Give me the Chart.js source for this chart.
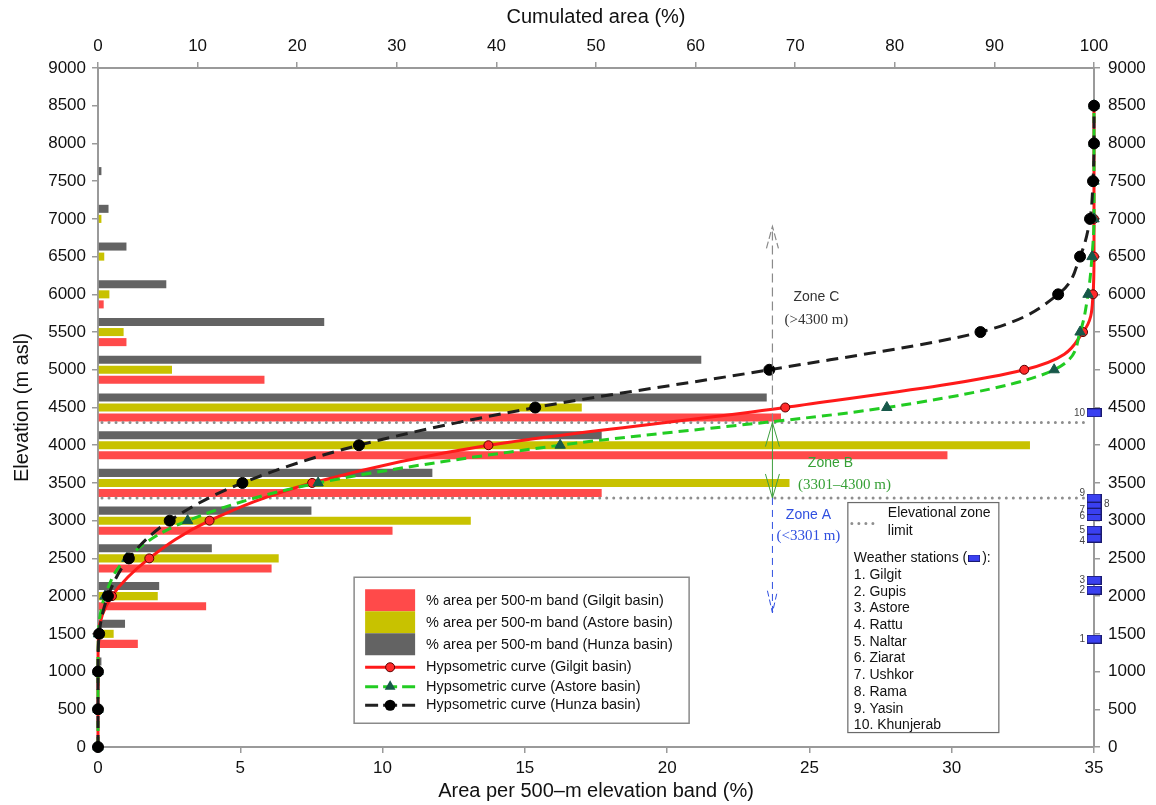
<!DOCTYPE html>
<html>
<head>
<meta charset="utf-8">
<script src="https://cdn.jsdelivr.net/npm/chart.js@4"></script>
<style>
html, body { margin: 0; padding: 0; background: #fff; }
#wrap { width: 1156px; height: 805px; position: relative; }
</style>
</head>
<body>
<div id="wrap"><canvas id="chart"></canvas></div>
<script>
// 500-m bands (bars), % of basin area
const bandElev = [1000, 1500, 2000, 2500, 3000, 3500, 4000, 4500, 5000, 5500, 6000, 6500, 7000, 7500];
const gilgitArea = [0.05, 1.4, 3.8, 6.1, 10.35, 17.7, 29.85, 24.0, 5.85, 1.0, 0.2, 0, 0, 0];
const astoreArea = [0.05, 0.55, 2.1, 6.35, 13.1, 24.3, 32.75, 17.0, 2.6, 0.9, 0.4, 0.22, 0.12, 0];
const hunzaArea = [0.12, 0.95, 2.15, 4.0, 7.5, 11.75, 17.7, 23.5, 21.2, 7.95, 2.4, 1.0, 0.37, 0.12];

// hypsometric curves, cumulated area (%)
const curveElev = [0, 500, 1000, 1500, 2000, 2500, 3000, 3500, 4000, 4500, 5000, 5500, 6000, 6500, 7000, 7500, 8000, 8500];
const gilgitCum = [0, 0, 0, 0.05, 1.4, 5.15, 11.2, 21.5, 39.2, 69.0, 93.0, 98.9, 99.9, 100, 100, 100, 100, 100];
const astoreCum = [0, 0, 0, 0.05, 0.7, 2.9, 9.0, 22.1, 46.4, 79.2, 96.0, 98.6, 99.4, 99.8, 100, 100, 100, 100];
const hunzaCum = [0, 0, 0, 0.12, 1.0, 3.1, 7.2, 14.5, 26.2, 43.9, 67.4, 88.6, 96.4, 98.6, 99.6, 99.9, 100, 100];

// weather stations
const stationNames = ['Gilgit', 'Gupis', 'Astore', 'Rattu', 'Naltar', 'Ziarat', 'Ushkor', 'Rama', 'Yasin', 'Khunjerab'];
const stationElev = [1430, 2080, 2210, 2770, 2875, 3055, 3135, 3220, 3300, 4430];

const zoneLimits = [3301, 4300];
const zoneX = 23.7;

const SANS = '"Liberation Sans", Arial, sans-serif';
const SERIF = '"Liberation Serif", "Times New Roman", serif';
const RED_BAR = 'rgb(255,74,74)';
const YEL_BAR = 'rgb(200,194,0)';
const GREY_BAR = 'rgb(99,99,99)';
const STATION_BLUE = '#3a40f0';

const pts = (ys, xs) => ys.map((y, i) => ({ x: xs[i], y: y }));

// station marker image
const stationIcon = document.createElement('canvas');
stationIcon.width = 15; stationIcon.height = 9;
(function () {
    const c = stationIcon.getContext('2d');
    c.fillStyle = STATION_BLUE;
    c.fillRect(0.5, 0.5, 14, 8);
    c.strokeStyle = '#1a1a70';
    c.lineWidth = 1;
    c.strokeRect(0.5, 0.5, 14, 8);
})();

function drawTri(ctx, x, y, r, color) {
    ctx.beginPath();
    ctx.moveTo(x, y - r);
    ctx.lineTo(x + r * 0.9, y + r * 0.6);
    ctx.lineTo(x - r * 0.9, y + r * 0.6);
    ctx.closePath();
    ctx.fillStyle = color;
    ctx.fill();
}

function drawDot(ctx, x, y, r, fill, stroke) {
    ctx.beginPath();
    ctx.arc(x, y, r, 0, Math.PI * 2);
    ctx.fillStyle = fill;
    ctx.fill();
    if (stroke) { ctx.strokeStyle = stroke; ctx.lineWidth = 1; ctx.stroke(); }
}

function arrowHead(ctx, x, tip, dir, w, h) {
    ctx.beginPath();
    ctx.moveTo(x - w, tip + dir * h);
    ctx.lineTo(x, tip);
    ctx.lineTo(x + w, tip + dir * h);
    ctx.stroke();
}

// dashed legend sample: dash, marker, dash
function dashSample(ctx, x0, y, color) {
    ctx.strokeStyle = color;
    ctx.lineWidth = 3;
    [[x0, x0 + 13], [x0 + 18, x0 + 32], [x0 + 37, x0 + 50]].forEach(s => {
        ctx.beginPath(); ctx.moveTo(s[0], y); ctx.lineTo(s[1], y); ctx.stroke();
    });
}

const overlay = {
    id: 'overlay',
    afterDatasetDraw(chart, args) {
        // zone limits sit over the bars but under the curves
        if (args.index !== 0) return;
        const { ctx, chartArea, scales } = chart;
        ctx.save();
        ctx.strokeStyle = '#8e8e8e';
        ctx.lineWidth = 3;
        ctx.lineCap = 'round';
        ctx.setLineDash([0.01, 7]);
        zoneLimits.forEach(v => {
            const py = scales.y.getPixelForValue(v);
            ctx.beginPath();
            ctx.moveTo(chartArea.left + 4, py);
            ctx.lineTo(chartArea.right - 4, py);
            ctx.stroke();
        });
        ctx.restore();
    },
    afterDatasetsDraw(chart) {
        const { ctx, scales } = chart;
        const x = scales.x, y = scales.y;
        const ax = x.getPixelForValue(zoneX);
        const yHi = y.getPixelForValue(zoneLimits[1]);
        const yLo = y.getPixelForValue(zoneLimits[0]);
        ctx.save();

        // Zone C
        const cTip = y.getPixelForValue(6900);
        ctx.strokeStyle = '#8a8a8a';
        ctx.lineWidth = 1.2;
        ctx.setLineDash([9, 5]);
        ctx.beginPath(); ctx.moveTo(ax, yHi); ctx.lineTo(ax, cTip); ctx.stroke();
        ctx.setLineDash([7, 3]);
        arrowHead(ctx, ax, cTip, 1, 6, 22);

        // Zone B
        ctx.setLineDash([]);
        ctx.strokeStyle = '#3f9f3f';
        ctx.lineWidth = 1;
        ctx.beginPath(); ctx.moveTo(ax, yHi); ctx.lineTo(ax, yLo); ctx.stroke();
        arrowHead(ctx, ax, yHi, 1, 7, 24);
        arrowHead(ctx, ax, yLo, -1, 7, 24);

        // Zone A
        const aTip = y.getPixelForValue(1780);
        ctx.strokeStyle = '#2f4fe0';
        ctx.setLineDash([7, 5]);
        ctx.beginPath(); ctx.moveTo(ax, yLo); ctx.lineTo(ax, aTip); ctx.stroke();
        ctx.setLineDash([6, 3]);
        arrowHead(ctx, ax, aTip, -1, 5, 22);
        ctx.setLineDash([]);

        ctx.textBaseline = 'middle';
        ctx.textAlign = 'center';
        ctx.fillStyle = '#333';
        ctx.font = '14px ' + SANS;
        ctx.fillText('Zone C', ax + 44, y.getPixelForValue(5960));
        ctx.font = '15px ' + SERIF;
        ctx.fillText('(>4300 m)', ax + 44, y.getPixelForValue(5660));
        ctx.fillStyle = '#36a036';
        ctx.font = '14px ' + SANS;
        ctx.fillText('Zone B', ax + 58, y.getPixelForValue(3760));
        ctx.font = '15px ' + SERIF;
        ctx.fillText('(3301\u20134300 m)', ax + 72, y.getPixelForValue(3470));
        ctx.fillStyle = '#2f4fe0';
        ctx.font = '14px ' + SANS;
        ctx.fillText('Zone A', ax + 36, y.getPixelForValue(3070));
        ctx.font = '15px ' + SERIF;
        ctx.fillText('(<3301 m)', ax + 36, y.getPixelForValue(2790));

        // main legend
        const lx = x.getPixelForValue(9.0), ly = y.getPixelForValue(2250);
        ctx.fillStyle = '#fff';
        ctx.fillRect(lx, ly, 335, 146);
        ctx.strokeStyle = '#8a8a8a';
        ctx.lineWidth = 1.5;
        ctx.strokeRect(lx, ly, 335, 146);
        const sw = lx + 11, tx = lx + 72;
        ctx.fillStyle = RED_BAR; ctx.fillRect(sw, ly + 12, 50, 22);
        ctx.fillStyle = YEL_BAR; ctx.fillRect(sw, ly + 34, 50, 22);
        ctx.fillStyle = GREY_BAR; ctx.fillRect(sw, ly + 56, 50, 22);
        ctx.textAlign = 'left';
        ctx.fillStyle = '#111';
        ctx.font = '14.5px ' + SANS;
        const legTexts = [
            '% area per 500-m band (Gilgit basin)',
            '% area per 500-m band (Astore basin)',
            '% area per 500-m band (Hunza basin)',
            'Hypsometric curve (Gilgit basin)',
            'Hypsometric curve (Astore basin)',
            'Hypsometric curve (Hunza basin)'
        ];
        const rows = [24, 46, 68, 90, 109.5, 128];
        legTexts.forEach((t, i) => ctx.fillText(t, tx, ly + rows[i]));
        // curve samples
        ctx.lineWidth = 3;
        ctx.strokeStyle = '#ff1a1a';
        ctx.beginPath(); ctx.moveTo(sw, ly + 90); ctx.lineTo(sw + 50, ly + 90); ctx.stroke();
        drawDot(ctx, sw + 25, ly + 90, 4.5, '#ff2a2a', '#5a0000');
        dashSample(ctx, sw, ly + 109.5, '#22cc22');
        drawTri(ctx, sw + 25, ly + 109, 6, '#17584a');
        dashSample(ctx, sw, ly + 128, '#222');
        drawDot(ctx, sw + 25, ly + 128, 5.5, '#000');

        // zone / stations legend
        const bx = x.getPixelForValue(26.35), by = y.getPixelForValue(3240);
        ctx.fillStyle = '#fff';
        ctx.fillRect(bx, by, 151, 230);
        ctx.strokeStyle = '#6a6a6a';
        ctx.lineWidth = 1.2;
        ctx.strokeRect(bx, by, 151, 230);
        ctx.strokeStyle = '#8e8e8e';
        ctx.lineWidth = 3;
        ctx.lineCap = 'round';
        ctx.setLineDash([0.01, 7]);
        ctx.beginPath(); ctx.moveTo(bx + 4, by + 21); ctx.lineTo(bx + 30, by + 21); ctx.stroke();
        ctx.setLineDash([]);
        ctx.lineCap = 'butt';
        ctx.fillStyle = '#111';
        ctx.font = '14px ' + SANS;
        ctx.fillText('Elevational zone', bx + 40, by + 11);
        ctx.fillText('limit', bx + 40, by + 29);
        const ws = 'Weather stations (';
        ctx.fillText(ws, bx + 6, by + 56);
        const wsw = ctx.measureText(ws).width;
        ctx.drawImage(stationIcon, bx + 6 + wsw + 1, by + 52, 12, 7);
        ctx.fillText('):', bx + 6 + wsw + 15, by + 56);
        stationNames.forEach((n, i) => {
            ctx.fillText((i + 1) + '. ' + n, bx + 6, by + 72.5 + i * 16.7);
        });

        // station numbers beside the markers
        const sx = x.getPixelForValue(35);
        ctx.font = '10px ' + SANS;
        ctx.fillStyle = '#444';
        stationElev.forEach((e, i) => {
            let py = y.getPixelForValue(e);
            if (i === 7) {
                ctx.textAlign = 'left';
                ctx.fillText(String(i + 1), sx + 10, py);
            } else {
                ctx.textAlign = 'right';
                if (i === 8) py -= 5;
                if (i === 3) py += 3;
                ctx.fillText(String(i + 1), sx - 9, py);
            }
        });
        ctx.restore();
    }
};

const tickFont = { family: SANS, size: 17 };
const titleFont = { family: SANS, size: 20 };
const axisGrid = { drawOnChartArea: false, color: '#9a9a9a', tickLength: 6, lineWidth: 1.5 };
const axisBorder = { color: '#9a9a9a', width: 2 };
const plain = v => String(v);

new Chart(document.getElementById('chart'), {
    type: 'bar',
    data: {
        datasets: [
            { label: '% area per 500-m band (Hunza basin)', data: pts(bandElev, hunzaArea), backgroundColor: GREY_BAR, xAxisID: 'x', yAxisID: 'y', order: 5 },
            { label: '% area per 500-m band (Astore basin)', data: pts(bandElev, astoreArea), backgroundColor: YEL_BAR, xAxisID: 'x', yAxisID: 'y', order: 5 },
            { label: '% area per 500-m band (Gilgit basin)', data: pts(bandElev, gilgitArea), backgroundColor: RED_BAR, xAxisID: 'x', yAxisID: 'y', order: 5 },
            {
                type: 'line', label: 'Hypsometric curve (Gilgit basin)', data: pts(curveElev, gilgitCum),
                xAxisID: 'x2', yAxisID: 'y', borderColor: '#ff1a1a', borderWidth: 3,
                pointRadius: 4.5, pointBackgroundColor: '#ff2a2a', pointBorderColor: '#5a0000', pointBorderWidth: 1,
                cubicInterpolationMode: 'monotone', clip: false, order: 2
            },
            {
                type: 'line', label: 'Hypsometric curve (Astore basin)', data: pts(curveElev, astoreCum),
                xAxisID: 'x2', yAxisID: 'y', borderColor: '#22cc22', borderWidth: 3, borderDash: [10, 6],
                pointStyle: 'triangle', pointRadius: 6, pointBackgroundColor: '#17584a', pointBorderColor: '#17584a', pointBorderWidth: 1,
                cubicInterpolationMode: 'monotone', clip: false, order: 1
            },
            {
                type: 'line', label: 'Hypsometric curve (Hunza basin)', data: pts(curveElev, hunzaCum),
                xAxisID: 'x2', yAxisID: 'y', borderColor: '#1e1e1e', borderWidth: 3, borderDash: [12, 7],
                pointRadius: 5.5, pointBackgroundColor: '#000', pointBorderColor: '#000', pointBorderWidth: 1,
                cubicInterpolationMode: 'monotone', clip: false, order: 0
            },
            {
                type: 'scatter', label: 'Weather stations', data: stationElev.map(e => ({ x: 35, y: e })),
                xAxisID: 'x', yAxisID: 'y', pointStyle: stationIcon, showLine: false, clip: false, order: -1
            }
        ]
    },
    options: {
        indexAxis: 'y',
        responsive: true,
        maintainAspectRatio: false,
        animation: false,
        events: [],
        categoryPercentage: 0.8,
        barPercentage: 0.8,
        layout: { padding: 0 },
        plugins: { legend: { display: false }, tooltip: { enabled: false } },
        scales: {
            x: {
                type: 'linear', position: 'bottom', min: 0, max: 35,
                ticks: { stepSize: 5, font: tickFont, color: '#111', padding: 5, maxRotation: 0, callback: plain },
                grid: axisGrid, border: axisBorder,
                title: { display: true, text: 'Area per 500\u2013m elevation band (%)', font: titleFont, color: '#111', padding: { top: 0, bottom: 2 } },
                afterFit: s => { s.height = 58; }
            },
            x2: {
                type: 'linear', position: 'top', min: 0, max: 100,
                ticks: { stepSize: 10, font: tickFont, color: '#111', padding: 5, maxRotation: 0, callback: plain },
                grid: axisGrid, border: axisBorder,
                title: { display: true, text: 'Cumulated area (%)', font: titleFont, color: '#111', padding: { top: 5, bottom: 0 } },
                afterFit: s => { s.height = 68; }
            },
            y: {
                type: 'linear', position: 'left', min: 0, max: 9000, offset: false,
                ticks: { stepSize: 500, font: tickFont, color: '#111', padding: 6, callback: plain },
                grid: Object.assign({ offset: false }, axisGrid), border: axisBorder,
                title: { display: true, text: 'Elevation (m asl)', font: titleFont, color: '#111', padding: { top: 10, bottom: 0 } },
                afterFit: s => { s.width = 98; }
            },
            y2: {
                type: 'linear', position: 'right', min: 0, max: 9000, offset: false,
                ticks: { stepSize: 500, font: tickFont, color: '#111', padding: 8, callback: plain },
                grid: Object.assign({ offset: false }, axisGrid), border: axisBorder,
                afterFit: s => { s.width = 62; }
            }
        }
    },
    plugins: [overlay]
});
</script>
</body>
</html>
